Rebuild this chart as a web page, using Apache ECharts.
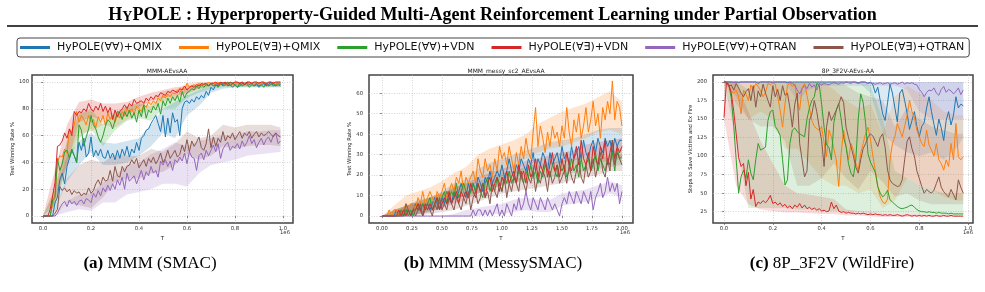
<!DOCTYPE html>
<html>
<head>
<meta charset="utf-8">
<script src="https://cdn.jsdelivr.net/npm/echarts/dist/echarts.min.js"></script>
<style>html,body{margin:0;padding:0;background:#fff}#chart{width:985px;height:292px}</style>
</head>
<body>
<div id="chart"></div>
<script>
// legend names, same order as the matplotlib legend
const NAMES = ['HyPOLE(∀∀)+QMIX', 'HyPOLE(∀∃)+QMIX', 'HyPOLE(∀∀)+VDN', 'HyPOLE(∀∃)+VDN', 'HyPOLE(∀∀)+QTRAN', 'HyPOLE(∀∃)+QTRAN'];
const COLORS = ['#1f77b4', '#ff7f0e', '#2ca02c', '#d62728', '#9467bd', '#8c564b'];

// ---- (a) MMM (SMAC): T = 0 .. 0.99 (x1e6), step 0.01
const T1 = Array.from({ length: 100 }, (_, i) => i / 100);
const smacQmixAA = [0,0,0,0,0,10,14,27,32,24, 37,43,49,45,40,55,49,58,44,47, 59,44,49,45,50,44,43,49,43,47, 42,49,43,50,45,52,44,50,47,55,
  49,58,60,64,65,69,72,75,69,63, 75,59,73,62,77,70,72,60,80,85, 86,84,87,85,89,87,90,88,93,90, 96,94,98,97,99,98,99,97,98,96,
  98,96,97,99,98,100,98,99,97,98, 96,98,99,97,98,100,97,98,99,98];
const smacQmixAE = [0,0,0,0,8,15,40,45,44,50, 47,65,62,68,78,70,75,72,68,75, 70,72,66,74,70,75,68,77,72,75, 70,76,73,78,75,80,77,80,76,82,
  80,78,83,81,85,83,86,84,88,86, 90,88,91,89,92,91,94,92,95,94, 99,96,97,98,96,99,97,99,98,100, 98,97,99,100,98,99,97,100,99,98,
  100,99,98,100,99,97,100,99,98,100, 99,98,100,99,97,99,100,98,99,99];
const smacVdnAA = [0,0,0,0,12,14,43,34,39,48, 49,43,50,45,40,68,64,52,59,65, 75,68,65,59,55,60,67,72,70,65, 71,78,77,72,78,74,79,73,77,70,
  79,74,83,73,79,77,82,79,84,76, 86,82,88,84,89,86,90,85,93,88, 92,93,95,94,97,95,98,96,98,97, 99,97,98,96,99,97,98,100,97,99,
  98,96,99,97,98,99,96,98,97,99, 97,98,96,99,97,98,99,97,98,97];
const smacVdnAE = [0,0,0,5,15,25,52,53,56,62, 58,65,60,78,75,78,77,80,78,84, 80,78,82,79,84,78,82,77,81,72, 79,74,78,80,83,80,84,82,87,84,
  85,86,84,88,86,89,87,90,89,92, 91,90,93,92,94,93,92,95,94,97, 94,96,97,96,98,97,99,98,99,97, 99,99,100,98,100,99,100,98,100,99,
  100,100,99,100,98,100,100,99,100,100, 99,100,100,98,100,100,99,100,100,100];
const smacQtranAA = [0,0,0,0,0,0,2,6,9,11, 7,12,9,11,8,11,12,9,13,12, 10,17,14,19,15,21,18,23,19,24, 20,27,23,29,20,32,26,28,30,24,
  29,34,27,33,30,37,32,34,29,41, 38,42,37,41,34,42,40,44,41,47, 39,48,44,43,34,45,47,42,49,45, 49,53,48,54,43,50,53,55,49,52,
  51,54,50,56,52,55,60,54,57,51, 55,58,53,57,59,55,60,62,54,56];
const smacQtranAE = [0,0,0,0,0,2,5,22,19,21, 18,20,16,19,17,18,15,17,16,21, 17,19,24,27,23,29,26,27,34,26, 37,30,29,37,33,37,38,42,39,43,
  36,39,42,37,43,40,44,39,42,47, 40,43,49,43,46,49,44,46,53,48, 57,48,56,52,55,59,51,49,54,65, 51,59,52,58,55,63,56,60,58,62,
  57,60,63,58,62,60,63,58,61,63, 59,62,60,61,63,61,59,62,60,59];
// shaded spread, sampled coarser
const TB1 = [0,0.05,0.1,0.15,0.2,0.25,0.3,0.35,0.4,0.45,0.5,0.55,0.6,0.65,0.7,0.75,0.8,0.85,0.9,0.95,0.99];
const smacLo = [
  [0,4,26,38,48,38,38,40,45,52,62,58,75,82,92,95,96,96,96,96,96],
  [0,8,38,62,63,68,66,72,76,79,86,87,93,95,97,97,97,97,97,97,97],
  [0,8,38,58,65,52,64,71,73,71,80,80,88,92,95,96,96,96,96,96,96],
  [0,15,38,70,74,72,73,75,81,86,88,90,91,95,98,98,98,98,98,98,98],
  [0,0,3,5,4,10,10,16,18,20,24,24,22,32,38,40,42,45,46,47,48],
  [0,0,10,8,6,14,25,28,28,32,33,38,46,42,45,52,50,52,53,53,52]];
const smacHi = [
  [0,16,45,56,62,55,54,56,58,68,80,85,90,94,99,100,100,100,100,100,100],
  [0,22,56,78,78,80,76,82,85,87,93,94,99,100,100,100,100,100,100,100,100],
  [0,20,56,76,80,68,77,82,84,82,90,90,95,98,99,100,100,100,100,100,100],
  [0,35,68,85,87,84,84,85,89,92,94,96,97,99,100,100,100,100,100,100,100],
  [0,0,11,16,17,25,30,38,40,46,50,55,52,56,58,60,60,63,63,64,64],
  [0,5,28,38,42,40,46,45,45,50,48,54,63,58,60,68,66,68,68,68,66]];

// ---- (b) MMM (MessySMAC): T = 0 .. 2.0 (x1e6), step 0.02
const T2 = Array.from({ length: 101 }, (_, i) => i / 50);
const messyQmixAA = [0,0,0,0,0,0,3,0,3,0, 3,3,0,3,6,3,3,6,3,6, 3,6,9,6,3,9,6,12,9,6, 12,9,12,16,12,9,16,12,16,12, 19,16,12,19,16,22,16,19,22,19,
  25,19,22,28,22,19,25,22,28,25, 22,28,25,31,22,28,25,31,28,22, 31,25,28,31,25,34,28,31,25,34, 28,31,34,28,37,31,28,34,37,31,
  38,34,31,38,34,37,31,38,34,37, 37];
const messyQmixAE = [0,0,0,3,0,3,3,0,3,3, 6,3,6,6,3,9,6,12,6,9, 12,9,6,12,9,12,16,9,12,16, 12,19,16,22,12,19,16,19,22,16, 28,22,19,28,22,25,19,28,22,34,
  28,31,25,34,28,22,31,25,34,28, 38,31,28,41,53,34,44,38,31,41, 34,44,38,41,34,44,38,53,41,34, 47,41,50,38,44,53,41,47,56,44,
  50,38,53,47,56,50,66,47,56,53, 44];
const messyVdnAA = [0,0,0,0,0,0,0,0,3,0, 3,0,3,0,3,6,3,6,3,6, 9,3,6,9,6,9,12,6,9,12, 9,16,9,12,16,12,9,12,16,12, 16,12,9,16,19,12,16,12,19,16,
  12,19,16,22,16,19,16,22,19,16, 22,19,25,19,22,16,22,19,25,22, 19,25,22,19,25,22,25,19,22,28, 22,25,19,28,22,25,28,22,25,31,
  22,28,25,22,28,25,31,22,33,28, 29];
const messyVdnAE = [0,0,0,0,0,0,0,3,0,3, 0,3,0,3,3,6,3,0,6,3, 6,3,6,9,3,6,9,6,12,6, 9,12,6,12,9,12,9,16,12,9, 16,12,16,9,16,19,12,16,19,12,
  19,16,22,16,19,22,16,25,19,22, 16,25,19,22,28,19,25,22,28,19, 25,31,22,25,19,28,22,31,25,22, 28,34,25,37,28,25,31,22,34,28,
  25,34,28,37,25,31,37,28,34,31, 34];
const messyQtranAA = [0,0,0,0,0,0,0,0,0,0, 0,0,0,0,0,0,0,0,0,0, 0,0,0,0,0,0,0,0,0,0, 0,0,0,0,0,0,0,0,3,0, 3,3,0,3,0,3,0,3,6,0,
  3,0,6,3,0,6,3,9,3,6, 12,6,3,9,6,3,9,6,3,9, 6,3,6,3,0,6,9,6,12,9, 6,12,9,6,12,9,6,12,3,9,
  12,16,9,12,19,12,16,12,16,6, 12];
const messyQtranAE = [0,0,0,0,0,0,0,0,0,0, 6,3,0,3,0,3,6,0,3,6, 3,0,6,3,9,3,6,3,9,6, 3,9,6,3,9,6,12,3,9,12, 6,9,16,9,12,6,16,12,9,16,
  12,19,9,16,12,19,16,12,22,16, 12,19,16,22,12,19,16,22,19,12, 22,16,19,25,16,19,22,16,25,19, 16,22,28,19,16,25,19,22,28,19,
  25,31,22,19,28,22,37,25,31,28, 25];
const TB2 = [0,0.1,0.2,0.3,0.4,0.5,0.6,0.7,0.8,0.9,1.0,1.1,1.2,1.3,1.4,1.5,1.6,1.7,1.8,1.9,2.0];
const messyLo = [
  [0,0,0,1,2,4,8,10,13,15,17,20,22,23,25,26,27,29,30,31,32],
  [0,0,1,3,5,8,11,13,18,20,22,24,28,31,33,34,36,38,41,42,40],
  [0,0,0,1,3,5,8,10,11,13,15,16,18,18,19,20,21,22,23,24,25],
  [0,0,0,1,2,4,6,8,11,13,15,17,19,20,21,22,24,25,26,27,28],
  [0,0,0,0,0,0,0,0,0,1,1,2,3,2,2,5,6,7,9,11,9],
  [0,0,0,0,1,2,3,5,7,9,11,12,13,14,15,16,18,19,20,22,22]];
const messyHi = [
  [0,3,5,8,9,12,16,18,23,26,28,30,32,34,36,37,38,40,42,43,43],
  [0,5,10,12,14,17,21,24,30,33,35,37,40,45,48,51,53,55,58,61,56],
  [0,3,5,7,9,11,14,16,17,19,21,22,24,25,26,27,28,29,30,31,33],
  [0,3,5,7,9,11,14,16,19,21,23,25,27,28,30,31,32,35,36,37,38],
  [0,0,0,0,0,0,1,3,4,5,6,8,9,8,8,11,12,13,15,17,15],
  [0,1,5,6,7,8,9,11,13,15,17,18,19,20,21,22,24,25,28,30,30]];

// ---- (c) 8P_3F2V (WildFire): T = 0 .. 0.98 (x1e6), step 0.01
const T3 = Array.from({ length: 99 }, (_, i) => i / 100);
const fireQmixAA = [200,200,200,200,200,200,199,200,200,200, 200,200,200,200,198,200,200,200,200,200, 200,200,200,200,200,200,199,200,200,200,
  200,200,200,200,200,200,200,200,200,200, 200,200,200,200,200,200,200,200,200,200, 200,200,200,200,200,199,200,200,200,198,
  200,196,185,193,175,157,148,172,197,185, 165,146,185,190,175,158,136,148,160,140, 126,140,145,165,180,160,143,128,150,138,
  121,148,160,142,155,180,165,170,168];
const fireQmixAE = [200,198,194,187,185,189,180,157,189,184, 175,196,190,198,194,188,180,186,198,196, 199,197,180,162,139,171,195,199,194,197,
  175,162,192,198,182,165,148,140,137,135, 140,118,99,135,126,110,95,59,104,135, 113,95,117,108,90,81,104,117,130,139,
  122,100,80,59,45,38,36,42,95,117, 126,144,135,126,140,155,175,160,152,135, 126,117,113,135,115,108,100,117,95,90,
  81,95,86,117,95,144,99,95,99];
const fireVdnAA = [200,200,196,178,140,95,50,72,81,70, 95,77,68,95,117,108,110,112,148,160, 162,140,135,128,95,61,68,117,135,138,
  133,130,128,126,150,165,175,180,198,196, 170,139,115,112,95,145,162,171,150,125, 113,90,77,72,95,150,184,172,145,103,
  92,85,78,59,50,45,48,54,41,38, 35,32,30,29,30,31,33,34,31,28, 26,25,25,24,25,24,24,23,24,23,
  23,23,22,23,22,22,22,22,22];
const fireVdnAE = [152,200,196,185,160,130,98,86,90,60, 78,42,55,32,38,36,40,37,41,47, 36,38,34,37,32,35,30,33,29,34,
  31,36,30,34,29,31,28,30,27,29, 26,27,25,26,38,29,34,26,24,25, 23,24,23,23,22,23,22,23,22,21,
  22,21,22,21,21,20,21,20,21,20, 20,21,20,19,20,21,20,19,20,19, 20,19,20,19,20,19,19,20,19,19,
  20,19,19,20,19,19,19,19,19];
const fireQtranAA = [200,200,200,200,199,200,200,200,200,200, 200,200,200,200,200,200,200,200,200,200, 199,200,200,200,200,200,200,200,198,196,
  189,184,191,195,191,198,193,196,189,198, 196,198,197,196,198,199,198,197,199,198, 200,199,198,200,199,198,199,200,199,198,
  199,198,197,198,199,197,198,199,197,198, 199,197,198,200,197,199,198,199,197,196, 190,186,180,186,189,188,192,185,182,190,
  194,186,190,188,184,187,192,183,189];
const fireQtranAE = [200,200,194,196,189,198,192,185,180,187, 191,175,195,166,188,180,197,185,175,166, 195,180,190,175,195,182,185,165,139,170,
  185,117,95,72,80,148,157,175,160,139, 121,86,139,160,148,155,162,170,180,172, 139,125,113,100,85,77,95,110,117,126,
  130,127,120,113,125,130,112,81,68,63, 61,59,60,68,95,120,126,110,100,80, 70,59,50,55,52,50,54,63,72,58,
  52,48,45,55,48,41,68,58,50];
const TB3 = [0,0.05,0.1,0.15,0.2,0.25,0.3,0.35,0.4,0.45,0.5,0.55,0.6,0.65,0.7,0.75,0.8,0.85,0.9,0.95,0.98];
const fireLo = [
  [200,200,200,200,200,200,200,200,200,200,200,200,185,130,115,105,100,105,95,110,125],
  [200,170,150,160,150,110,110,90,70,60,60,50,55,30,40,70,60,55,45,40,40],
  [200,120,30,30,30,30,28,28,26,26,25,25,24,23,22,22,22,21,21,21,21],
  [150,60,35,28,26,24,24,23,22,22,20,20,19,18,18,18,18,18,18,18,18],
  [200,200,200,200,200,200,175,190,195,195,195,195,195,195,195,190,160,150,150,150,150],
  [200,180,150,140,140,120,60,60,70,90,70,55,80,65,45,50,40,35,35,35,35]];
const fireHi = [
  [200,200,200,200,200,200,200,200,200,200,200,200,200,200,200,200,200,200,200,200,200],
  [200,200,200,200,200,200,200,200,200,190,175,165,170,130,180,195,185,175,160,155,155],
  [200,200,190,200,200,200,200,200,200,200,200,200,195,150,80,70,60,55,50,50,50],
  [200,200,160,120,90,60,50,48,45,42,28,26,25,23,22,22,22,21,21,21,21],
  [200,200,200,200,200,200,200,200,200,200,200,200,200,200,200,200,200,200,200,200,200],
  [200,200,200,200,200,200,200,200,200,200,195,185,180,175,140,165,150,140,135,130,130]];

const X1_TICKS = [0, 0.2, 0.4, 0.6, 0.8, 1.0];
const X2_TICKS = [0, 0.25, 0.5, 0.75, 1.0, 1.25, 1.5, 1.75, 2.0];
const Y1_TICKS = [0, 20, 40, 60, 80, 100];
const Y2_TICKS = [0, 10, 20, 30, 40, 50, 60];
const Y3_TICKS = [25, 50, 75, 100, 125, 150, 175, 200];

const PANELS = [
  { t: T1, lines: [smacQmixAA, smacQmixAE, smacVdnAA, smacVdnAE, smacQtranAA, smacQtranAE], tb: TB1, lo: smacLo, hi: smacHi },
  { t: T2, lines: [messyQmixAA, messyQmixAE, messyVdnAA, messyVdnAE, messyQtranAA, messyQtranAE], tb: TB2, lo: messyLo, hi: messyHi },
  { t: T3, lines: [fireQmixAA, fireQmixAE, fireVdnAA, fireVdnAE, fireQtranAA, fireQtranAE], tb: TB3, lo: fireLo, hi: fireHi }
];

const SANS = 'DejaVu Sans';
const SERIF = 'Liberation Serif';
const chart = echarts.init(document.getElementById('chart'));

function xAxis(g, min, max, ticks, digits) {
  return {
    type: 'value', gridIndex: g, min: min, max: max,
    name: 'T', nameLocation: 'middle', nameGap: 8,
    nameTextStyle: { fontFamily: SANS, fontSize: 5.5, color: '#222' },
    axisLine: { show: false },
    axisTick: { show: true, length: 2, customValues: ticks, lineStyle: { color: '#444', width: 0.6 } },
    axisLabel: { customValues: ticks, fontFamily: SANS, fontSize: 5.3, color: '#333', margin: 3,
      formatter: v => v.toFixed(digits) },
    splitLine: { show: true, lineStyle: { color: '#b8b8b8', width: 0.6, type: [1, 1.5] } }
  };
}
function yAxis(g, min, max, ticks, name, gap, margin) {
  return {
    type: 'value', gridIndex: g, min: min, max: max,
    name: name, nameLocation: 'middle', nameRotate: 90, nameGap: gap,
    nameTextStyle: { fontFamily: SANS, fontSize: 5.3, color: '#222' },
    axisLine: { show: false },
    axisTick: { show: true, length: 2, customValues: ticks, lineStyle: { color: '#444', width: 0.6 } },
    axisLabel: { customValues: ticks, fontFamily: SANS, fontSize: 5.3, color: '#333', margin: margin },
    splitLine: { show: true, lineStyle: { color: '#b8b8b8', width: 0.6, type: [1, 1.5] } }
  };
}

function bandSeries(g, xs, lo, hi, color, alpha) {
  return {
    type: 'custom', xAxisIndex: g, yAxisIndex: g, silent: true, z: 1,
    data: xs.map((x, i) => [x, lo[i], hi[i]]),
    encode: { x: 0, y: [1, 2] },
    renderItem: function (params, api) {
      if (params.dataIndex !== 0) return null;
      const top = xs.map((x, i) => api.coord([x, hi[i]]));
      const bot = xs.map((x, i) => api.coord([x, lo[i]])).reverse();
      return { type: 'polygon', shape: { points: top.concat(bot) }, style: { fill: color, opacity: alpha } };
    }
  };
}

const series = [];
PANELS.forEach((p, g) => {
  const alpha = g === 2 ? 0.16 : 0.2;
  p.lo.forEach((lo, s) => series.push(bandSeries(g, p.tb, lo, p.hi[s], COLORS[s], alpha)));
  p.lines.forEach((vals, s) => series.push({
    name: NAMES[s], type: 'line', xAxisIndex: g, yAxisIndex: g, z: 2,
    data: vals.map((v, i) => [p.t[i], v]),
    showSymbol: false, symbol: 'none', color: COLORS[s],
    lineStyle: { width: 1, color: COLORS[s] }
  }));
});

const subTitle = (text, x) => ({ text: text, left: x, top: 63, textAlign: 'center',
  textStyle: { fontFamily: SANS, fontSize: 6, fontWeight: 'normal', color: '#222' } });
const offsetText = (x) => ({ type: 'text', right: 985 - x, top: 230,
  style: { text: '1e6', font: '5.3px "DejaVu Sans"', fill: '#333' } });
const caption = (tag, text, x) => ({ type: 'text', x: x, y: 255,
  style: { text: '{b|' + tag + '} ' + text, align: 'center', verticalAlign: 'top', font: '17px "Liberation Serif"', fill: '#000',
    rich: { b: { fontFamily: SERIF, fontWeight: 'bold', fontSize: 17, fill: '#000' } } } });

chart.setOption({
  animation: false,
  backgroundColor: '#fff',
  title: [
    { text: '{b|H}{s|Y}{b|POLE : Hyperproperty-Guided Multi-Agent Reinforcement Learning under Partial Observation}',
      left: 'center', top: 1,
      textStyle: { rich: {
        b: { fontFamily: SERIF, fontWeight: 'bold', fontSize: 18, color: '#000', verticalAlign: 'bottom', lineHeight: 18 },
        s: { fontFamily: SERIF, fontWeight: 'bold', fontSize: 14, color: '#000', verticalAlign: 'bottom', lineHeight: 16 } } } },
    subTitle('MMM-AEvsAA', 162),
    subTitle('MMM_messy_sc2_AEvsAA', 501),
    subTitle('8P_3F2V-AEvs-AA', 843)
  ],
  legend: {
    data: NAMES.map(n => ({ name: n, icon: 'rect' })),
    left: 17, top: 38, itemWidth: 30, itemHeight: 3, itemGap: 17,
    padding: [4, 5, 4, 3], borderColor: '#444', borderWidth: 1, borderRadius: 3,
    textStyle: { fontFamily: SANS, fontSize: 11, color: '#111', padding: [0, 0, 0, 2] }
  },
  grid: [
    { left: 32, top: 75, width: 261, height: 148, show: true, borderColor: '#444', borderWidth: 1.5 },
    { left: 369, top: 75, width: 264, height: 148, show: true, borderColor: '#444', borderWidth: 1.5 },
    { left: 713, top: 75, width: 260, height: 148, show: true, borderColor: '#444', borderWidth: 1.5 }
  ],
  xAxis: [
    xAxis(0, -0.046, 1.042, X1_TICKS, 1),
    xAxis(1, -0.108, 2.092, X2_TICKS, 2),
    xAxis(2, -0.045, 1.02, X1_TICKS, 1)
  ],
  yAxis: [
    yAxis(0, -5.2, 105.2, Y1_TICKS, 'Test Winning Rate %', 12, 3),
    yAxis(1, -3.4, 68.9, Y2_TICKS, 'Test Winning Rate %', 9, 6),
    yAxis(2, 9.75, 209.4, Y3_TICKS, 'Steps to Save Victims and Ex Fire', 13, 6)
  ],
  series: series,
  graphic: [
    { type: 'line', shape: { x1: 7, y1: 26, x2: 978, y2: 26 }, style: { stroke: '#000', lineWidth: 1.5 } },
    offsetText(290), offsetText(630), offsetText(973),
    caption('(a)', 'MMM (SMAC)', 150),
    caption('(b)', 'MMM (MessySMAC)', 493),
    caption('(c)', '8P_3F2V (WildFire)', 832)
  ]
});
</script>
</body>
</html>
